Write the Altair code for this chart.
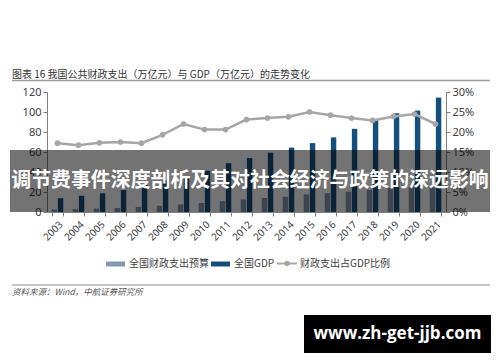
import altair as alt
import pandas as pd

years = [str(y) for y in range(2003, 2022)]
budget = [2.46, 2.85, 3.39, 4.04, 4.98, 6.26, 7.63, 8.99, 10.92, 12.60,
          14.02, 15.18, 17.59, 18.78, 20.31, 22.09, 23.89, 24.56, 24.63]
gdp = [13.7, 16.2, 18.7, 21.9, 27.0, 31.9, 34.9, 41.2, 48.8, 53.9,
       59.3, 64.4, 68.9, 74.6, 83.2, 91.9, 98.7, 101.4, 114.4]
ratio = [17.2, 16.7, 17.3, 17.5, 17.2, 19.3, 22.0, 20.6, 20.6, 23.1,
         23.5, 23.8, 25.0, 24.2, 23.5, 22.9, 23.9, 24.5, 22.0]
series_names = ["全国财政支出预算", "全国GDP", "财政支出占GDP比例"]
left_ticks = [0, 20, 40, 60, 80, 100, 120]
right_ticks = [0, 5, 10, 15, 20, 25, 30]
title_text = "图表 16 我国公共财政支出（万亿元）与 GDP（万亿元）的走势变化"
source_text = "资料来源：Wind，中航证券研究所"
overlay_text = "调节费事件深度剖析及其对社会经济与政策的深远影响"
site_text = "www.zh-get-jjb.com"

GREY = "#8497b0"
BLUE = "#14507e"
LINE = "#a6a6a6"
AX = "#808080"
LBL = "#404040"
CJK = "Noto Sans CJK SC"

bars_df = pd.DataFrame({
    "year": years * 2,
    "series": [series_names[0]] * len(years) + [series_names[1]] * len(years),
    "value": budget + gdp,
})
line_df = pd.DataFrame({"year": years, "ratio": ratio})

xenc = alt.X("year:N", sort=years, title=None,
             scale=alt.Scale(paddingInner=0.45, paddingOuter=0.225),
             axis=alt.Axis(labelAngle=-45, labelAlign="right", labelBaseline="top",
                           labelFontSize=10, labelColor=LBL, labelFont="Noto Sans",
                           tickBand="extent", tickSize=4, tickColor=AX,
                           domainColor=AX, labelPadding=3, zindex=0))

bars = alt.Chart(bars_df).mark_bar().encode(
    x=xenc,
    xOffset=alt.XOffset("series:N", sort=series_names[:2],
                        scale=alt.Scale(paddingInner=0.12)),
    y=alt.Y("value:Q", title=None,
            scale=alt.Scale(domain=[0, 120], nice=False),
            axis=alt.Axis(orient="left", values=left_ticks, grid=False,
                          labelFontSize=11, labelColor=LBL, labelFont="Noto Sans",
                          tickSize=4, tickColor=AX, domainColor=AX,
                          labelPadding=2, zindex=0)),
    color=alt.Color("series:N", scale=alt.Scale(domain=series_names[:2], range=[GREY, BLUE]),
                    legend=None),
)

line = alt.Chart(line_df).mark_line(
    color=LINE, strokeWidth=2.5,
    point=alt.OverlayMarkDef(filled=True, size=32, color=LINE),
).encode(
    x=alt.X("year:N", sort=years),
    y=alt.Y("ratio:Q", title=None,
            scale=alt.Scale(domain=[0, 30], nice=False),
            axis=alt.Axis(orient="right", values=right_ticks, grid=False,
                          labelExpr="datum.value + '%'",
                          labelFontSize=11, labelColor=LBL, labelFont="Noto Sans",
                          tickSize=4, tickColor=AX, domainColor=AX,
                          labelPadding=2, zindex=0)),
)

one = pd.DataFrame({"k": [0]})

def rect(x1, x2, y1, y2, color, opacity=1.0):
    return alt.Chart(one).mark_rect(color=color, opacity=opacity).encode(
        x=alt.value(x1), x2=alt.value(x2), y=alt.value(y1), y2=alt.value(y2))

def hrule(x1, x2, y, color, width):
    return alt.Chart(one).mark_rule(color=color, strokeWidth=width).encode(
        x=alt.value(x1), x2=alt.value(x2), y=alt.value(y))

def label(text, x, y, size, color, align="left", weight="normal", font=CJK, style="normal"):
    return alt.Chart(pd.DataFrame({"t": [text]})).mark_text(
        align=align, baseline="middle", fontSize=size, color=color,
        fontWeight=weight, font=font, fontStyle=style,
    ).encode(x=alt.value(x), y=alt.value(y), text="t:N")

# plot origin is at page (47, 92)
deco = [
    label(title_text, -35, -17, 10, "#333333"),
    hrule(-35, 443, -11.5, "#9a9a9a", 1.5),
    # legend
    rect(59, 78, 169.5, 174.5, GREY),
    label(series_names[0], 82, 171.5, 10, LBL),
    rect(164, 183, 169.5, 174.5, BLUE),
    label(series_names[1], 187, 171.5, 10, LBL),
    hrule(230, 250, 171.5, LINE, 2),
    alt.Chart(one).mark_point(filled=True, size=28, color=LINE, opacity=1).encode(
        x=alt.value(240), y=alt.value(171.5)),
    label(series_names[2], 253, 171.5, 10, LBL),
    # source
    hrule(-35, 443, 193, "#8c8c8c", 1),
    label(source_text, -35, 200, 8.5, "#555555", style="italic"),
    # overlay band
    rect(-37, 443, 58, 120, "#000000", 0.55),
    label(overlay_text, 203, 89, 19.9, "#ffffff", align="center", weight="bold"),
    # site box
    rect(257, 444, 223, 261, "#000000"),
    label(site_text, 350.5, 242, 17, "#ffffff", align="center", weight="bold", font="Open Sans"),
]

chart = alt.layer(bars, line, *deco).resolve_scale(y="independent").properties(
    width=399, height=120,
    autosize=alt.AutoSizeParams(type="none"),
    padding={"left": 39, "top": 84, "right": 46, "bottom": 142},
    background="white",
).configure_view(stroke=None)

chart.save("out.html", embed_options={"renderer": "svg", "actions": False})
